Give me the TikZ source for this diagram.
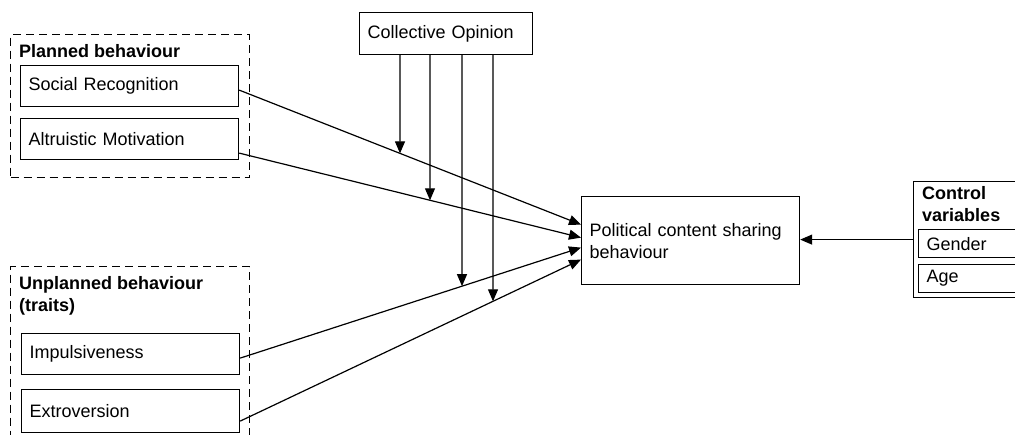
\documentclass[tikz,border=0pt]{standalone}
\usepackage{fontspec}
\setmainfont{Liberation Sans}
\usetikzlibrary{arrows.meta,intersections}
\begin{document}
\begin{tikzpicture}[x=1pt,y=-1pt,
  every node/.style={font=\fontsize{18}{22}\selectfont},
  box/.style={draw, line width=1.2pt, rectangle, anchor=north west, inner xsep=8pt, inner ysep=0pt, align=left},
  group/.style={draw, line width=1.2pt, dash pattern=on 8pt off 5pt, rectangle, anchor=north west, inner sep=0pt},
  grouptitle/.style={anchor=west, inner sep=0pt, font=\fontsize{18}{22}\selectfont\bfseries, align=left},
  conn/.style={line width=1.2pt, -{Triangle[length=12pt,width=10pt]}},
]
\useasboundingbox (0,0) rectangle (1015,434);
\clip (0,0) rectangle (1015,434);

% groups
\node[group, minimum width=239pt, minimum height=143pt] (pg) at (10,34) {};
\node[grouptitle] (pgt) at (19,51) {Planned behaviour};
\node[box, text width=202pt, minimum height=41pt] (sr) at (20,65) {Social Recognition};
\node[box, text width=202pt, minimum height=41pt] (am) at (20,118) {Altruistic Motivation};

\node[group, minimum width=239pt, minimum height=190pt] (ug) at (10,266) {};
\node[grouptitle] (ugt) at (19,296) {Unplanned behaviour\\(traits)};
\node[box, text width=202pt, minimum height=41pt] (im) at (21,333) {Impulsiveness};
\node[box, text width=202pt, minimum height=43pt] (ex) at (21,389) {Extroversion};

% central
\node[box, text width=157pt, minimum height=42pt] (co) at (359,12) {Collective Opinion};
\node[box, text width=202pt, minimum height=88pt] (pol) at (581,196) {Political content sharing\\behaviour};

% control variables
\node[box, inner xsep=0pt, minimum width=130pt, minimum height=116pt] (cv) at (913,181) {};
\node[grouptitle] (cvt) at (922,204) {Control\\variables};
\node[box, text width=104pt, minimum height=28pt] (ge) at (918,229) {Gender};
\node[box, text width=104pt, minimum height=28pt] (ag) at (918,264) {Age};

% connectors
\draw[conn, name path=c1] ([yshift=-4pt]sr.east) -- ([yshift=16pt]pol.west);
\draw[conn, name path=c2] ([yshift=-14pt]am.east) -- ([yshift=3pt]pol.west);
\draw[conn, name path=c3] ([yshift=-4pt]im.east) -- ([yshift=-7pt]pol.west);
\draw[conn, name path=c4] ([yshift=-10pt]ex.east) -- ([yshift=-19pt]pol.west);
\draw[conn] (cv.west) -- (cv.west -| pol.east);

% moderating arrows
\coordinate (x1) at (400,0);
\coordinate (x2) at (430,0);
\coordinate (x3) at (462,0);
\coordinate (x4) at (493,0);
\path[name path=v1] (x1) -- (400,434);
\path[name path=v2] (x2) -- (430,434);
\path[name path=v3] (x3) -- (462,434);
\path[name path=v4] (x4) -- (493,434);
\path[name intersections={of=c1 and v1, by=i1}];
\path[name intersections={of=c2 and v2, by=i2}];
\path[name intersections={of=c3 and v3, by=i3}];
\path[name intersections={of=c4 and v4, by=i4}];
\draw[conn] (co.south -| x1) -- (i1);
\draw[conn] (co.south -| x2) -- (i2);
\draw[conn] (co.south -| x3) -- (i3);
\draw[conn] (co.south -| x4) -- (i4);
\end{tikzpicture}
\end{document}
